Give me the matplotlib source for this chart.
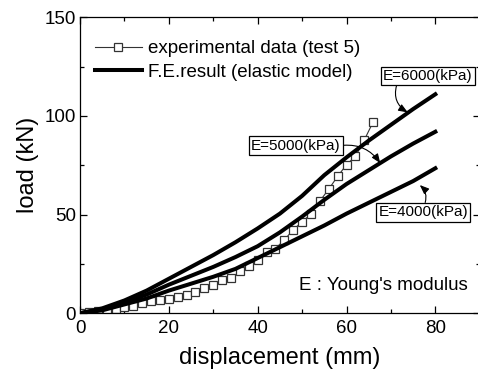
import matplotlib
matplotlib.use("Agg")
import matplotlib.pyplot as plt
from matplotlib.ticker import MultipleLocator

plt.rcParams['font.family'] = ['Liberation Sans', 'DejaVu Sans']

# experimental data (test 5)
exp_x = [0, 2, 4, 6, 8, 10, 12, 14, 16, 18, 20, 22, 24, 26, 28, 30, 32, 34, 36, 38,
         40, 42, 44, 46, 48, 50, 52, 54, 56, 58, 60, 62, 64, 66]
exp_y = [0.3, 0.8, 1.0, 1.2, 2.2, 3.2, 3.9, 5.2, 6.1, 6.6, 7.1, 8.1, 9.5, 11.0, 13.0, 14.2,
         16.9, 17.8, 21.2, 24.2, 27.2, 31.0, 32.8, 37.2, 42.3, 46.4, 50.3, 56.9, 62.9,
         69.4, 75.3, 79.5, 87.8, 97.0]

# F.E. results (elastic model)
fe_x = [0, 5, 10, 15, 20, 25, 30, 35, 40, 45, 50, 55, 60, 65, 70, 75, 80]
fe_6000 = [0, 2.5, 6.5, 11.5, 17.5, 23.5, 29.5, 36, 43, 50.5, 59.5, 70, 79, 87.5, 95.5, 103.5, 111]
fe_5000 = [0, 2.0, 5.5, 9.5, 14.5, 19, 23.5, 28.5, 34, 41, 49, 57.5, 65.5, 72.5, 79.5, 86, 92]
fe_4000 = [0, 1.5, 4.5, 7.5, 11.5, 15, 18.5, 22.5, 28, 33.5, 39, 44.5, 50.5, 56, 61.5, 67, 73.5]

labels = ["E=6000(kPa)", "E=5000(kPa)", "E=4000(kPa)"]

fig = plt.figure(figsize=(4.78, 3.74), dpi=100)
ax = fig.add_axes([80/478, 1-313.3/374, 399.75/478, (313.3-17.3)/374])

ax.plot(exp_x, exp_y, '-', color='#333333', lw=0.8, marker='s', ms=6,
        mfc='white', mec='#333333', mew=0.9, label='experimental data (test 5)')
ax.plot(fe_x, fe_6000, '-', color='black', lw=2.9, label='F.E.result (elastic model)')
ax.plot(fe_x, fe_5000, '-', color='black', lw=2.9)
ax.plot(fe_x, fe_4000, '-', color='black', lw=2.9)

ax.set_xlim(0, 90)
ax.set_ylim(0, 150)
ax.xaxis.set_major_locator(MultipleLocator(20))
ax.xaxis.set_minor_locator(MultipleLocator(10))
ax.yaxis.set_major_locator(MultipleLocator(50))
ax.yaxis.set_minor_locator(MultipleLocator(25))
ax.tick_params(which='both', direction='in', top=True, right=True, width=0.9,
               labelsize=13.5)
ax.tick_params(axis='x', pad=5)
ax.tick_params(axis='y', pad=3)
ax.tick_params(which='major', length=5)
ax.tick_params(which='minor', length=3)
ax.set_xticks([0, 20, 40, 60, 80])
for s in ax.spines.values():
    s.set_linewidth(0.9)

ax.set_xlabel('displacement (mm)', fontsize=17, labelpad=7)
ax.set_ylabel('load (kN)', fontsize=17, labelpad=4)

leg = ax.legend(loc='upper left', bbox_to_anchor=(95/478, 1-40/374),
                bbox_transform=fig.transFigure, frameon=False, fontsize=13.5,
                handlelength=2.5, handletextpad=0.3, borderpad=0, borderaxespad=0,
                labelspacing=0.35)

bbox = dict(boxstyle='square,pad=0.15', fc='white', ec='black', lw=0.9)
arrow = dict(arrowstyle='-|>,head_length=0.5,head_width=0.2', color='black', lw=0.8,
             shrinkA=0, shrinkB=0)

ax.annotate(labels[0], xy=(73.8, 101.8), xytext=(78.3, 120.2), fontsize=11,
            ha='center', va='center', bbox=bbox,
            arrowprops=dict(arrow, connectionstyle='arc3,rad=0.4',
                            relpos=(0.16, 0.0)))
ax.annotate(labels[1], xy=(67.6, 76.1), xytext=(48.6, 85.0), fontsize=11,
            ha='center', va='center', bbox=bbox,
            arrowprops=dict(arrow, connectionstyle='arc3,rad=-0.3',
                            relpos=(1.0, 0.5)))
ax.annotate(labels[2], xy=(76.5, 65.0), xytext=(77.3, 51.2), fontsize=11,
            ha='center', va='center', bbox=bbox,
            arrowprops=dict(arrow, connectionstyle='arc3,rad=0.35',
                            relpos=(0.51, 1.0)))

ax.text(68.3, 13.9, "E : Young's modulus", fontsize=13.5, ha='center', va='center')

fig.savefig('out.png', dpi=100)
